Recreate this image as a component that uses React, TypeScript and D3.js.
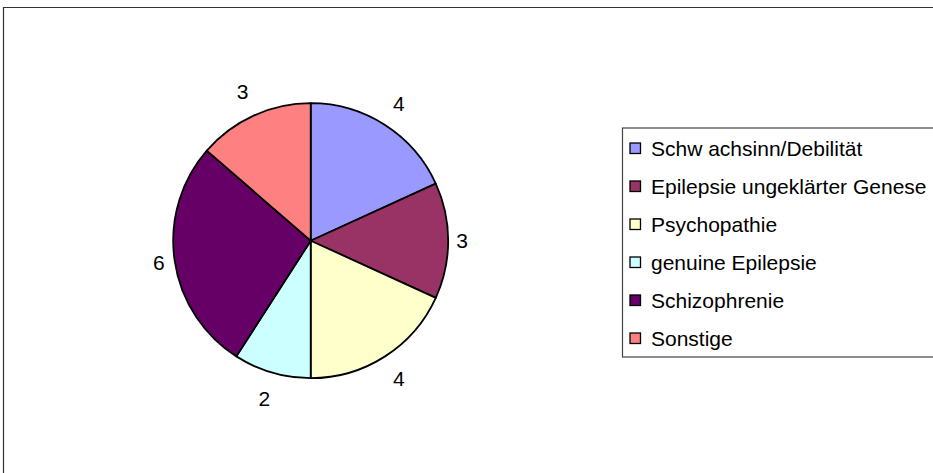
import React from "react";
import * as d3 from "d3";

const categories = [
  "Schw achsinn/Debilität",
  "Epilepsie ungeklärter Genese",
  "Psychopathie",
  "genuine Epilepsie",
  "Schizophrenie",
  "Sonstige",
];
const values = [4, 3, 4, 2, 6, 3];
const colors = ["#9999FF", "#993366", "#FFFFCC", "#CCFFFF", "#660066", "#FF8080"];

const W = 933;
const H = 473;
const CX = 310.7;
const CY = 240.7;
const R = 137.5;
const FONT = "'Liberation Sans', Arial, sans-serif";

export default function App() {
  const pie = d3.pie<number>().sort(null).value((d) => d)(values);
  const arc = d3.arc<d3.PieArcDatum<number>>().innerRadius(0).outerRadius(R);

  const legendY = d3
    .scalePoint<string>()
    .domain(categories)
    .range([148, 338]);

  return (
    <svg
      width={W}
      height={H}
      style={{ position: "absolute", left: 0, top: 0, background: "#fff" }}
      fontFamily={FONT}
    >
      <rect x={0} y={0} width={W} height={H} fill="#fff" />
      <path d={`M3.5,${H + 5} L3.5,7.5 L${W + 5},7.5`} fill="none" stroke="#333" strokeWidth={1.2} />
      <g transform={`translate(${CX},${CY})`}>
        {pie.map((p, i) => (
          <path key={i} d={arc(p) || ""} fill={colors[i]} stroke="#000" strokeWidth={1.8} strokeLinejoin="round" />
        ))}
        {pie.map((p, i) => {
          const a = (p.startAngle + p.endAngle) / 2;
          const rl = R + 14 + 14 * Math.abs(Math.cos(a));
          const x = Math.sin(a) * rl;
          const y = -Math.cos(a) * rl;
          return (
            <text key={i} x={x} y={y} textAnchor="middle" dominantBaseline="central" fontSize={21} fill="#000">
              {values[i]}
            </text>
          );
        })}
      </g>
      <rect x={622.5} y={128} width={W} height={229} fill="#fff" stroke="#444" strokeWidth={1.2} />
      {categories.map((c, i) => {
        const y = legendY(c) as number;
        return (
          <g key={c}>
            <rect x={630} y={y - 5} width={10.5} height={10.5} fill={colors[i]} stroke="#000" strokeWidth={1.3} />
            <text x={651} y={y} dominantBaseline="central" fontSize={21} fill="#000">
              {c}
            </text>
          </g>
        );
      })}
    </svg>
  );
}
